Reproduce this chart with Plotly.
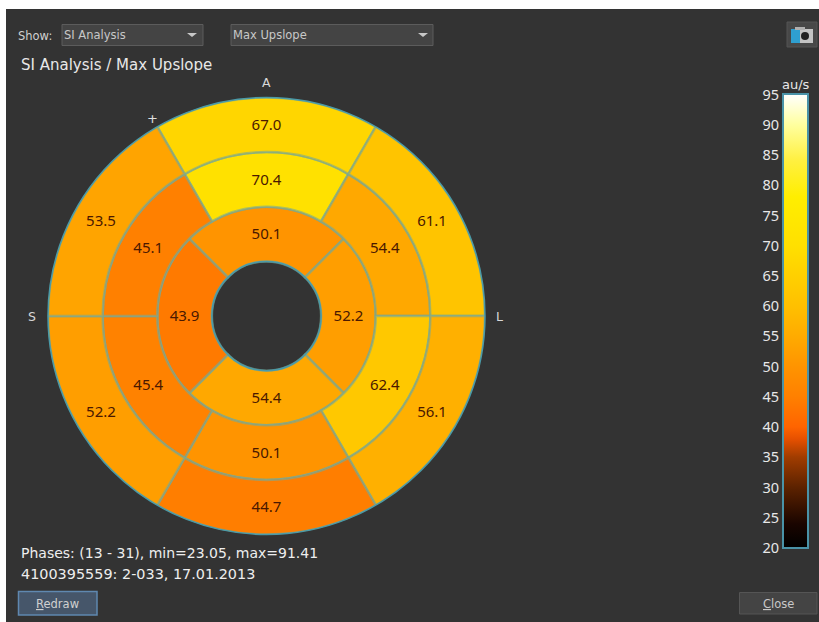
import plotly.graph_objects as go

W, H = 819, 622

# ---- data -----------------------------------------------------------
outer_values = [67.0, 61.1, 56.1, 44.7, 52.2, 53.5]
middle_values = [70.4, 54.4, 62.4, 50.1, 45.4, 45.1]
inner_values = [50.1, 52.2, 54.4, 43.9]
scale_ticks = [20, 25, 30, 35, 40, 45, 50, 55, 60, 65, 70, 75, 80, 85, 90, 95]
scale_stops = [20, 24, 30, 35, 38, 40, 45, 50, 55, 60, 65, 70, 78, 84, 90, 95]
scale_colors = ["#000000", "#1a0500", "#5c2200", "#a03c00", "#e65000", "#ff6400",
                "#ff8000", "#ff9400", "#ffab00", "#ffc000", "#ffd000", "#ffe000",
                "#ffee00", "#fff040", "#ffffa0", "#ffffff"]
show_label = "Show:"
combo_labels = ["SI Analysis", "Max Upslope"]
chart_title = "SI Analysis / Max Upslope"
footer_lines = ["Phases: (13 - 31), min=23.05, max=91.41", "4100395559: 2-033, 17.01.2013"]
unit = "au/s"

CMIN, CMAX = scale_ticks[0], scale_ticks[-1]
colorscale = [[(s - CMIN) / (CMAX - CMIN), c] for s, c in zip(scale_stops, scale_colors)]

# ---- helpers --------------------------------------------------------
def px(x):
    return x / W

def py(y):
    return 1 - y / H

FONT = "DejaVu Sans"
NUMFONT = "Noto Sans"
BG = "#333333"
EDGE = "rgba(120,170,150,0.62)"
TEAL = "#4a9aa8"
TXT = "#e4e4e4"

CX, CY, R = 266.5, 316, 218.5
TEXT_SHIFT = 1.5
fig = go.Figure()

rings = [(inner_values, 1), (middle_values, 2), (outer_values, 3)]
for values, base in rings:
    n = len(values)
    thetas = [i * 360 / n for i in range(n)]
    fig.add_trace(go.Barpolar(
        r=[1] * n, base=[base] * n, theta=thetas, width=[360 / n] * n,
        marker=dict(color=values, coloraxis="coloraxis", line=dict(color=EDGE, width=2.5)),
        hoverinfo="skip", showlegend=False, subplot="polar",
    ))
    fig.add_trace(go.Scatterpolar(
        r=[base + 0.5] * n, theta=thetas, mode="text",
        text=[f"{v:.1f}" for v in values],
        textposition="middle center",
        textfont=dict(family=NUMFONT, size=15, color="#4a1800"),
        hoverinfo="skip", showlegend=False, subplot="polar2",
    ))

# invisible trace that carries the value axis next to the colour bar
fig.add_trace(go.Scatter(x=[0, 0], y=[CMIN, CMAX], mode="markers", marker=dict(opacity=0),
                         xaxis="x", yaxis="y", hoverinfo="skip", showlegend=False))

BAR_L, BAR_R, BAR_T, BAR_B = 783, 808, 94.5, 548

shapes = []
def rect(x0, y0, x1, y1, fill, line=None, lw=1):
    shapes.append(dict(type="rect", xref="paper", yref="paper",
                       x0=px(x0), x1=px(x1), y0=py(y1), y1=py(y0), fillcolor=fill,
                       line=dict(color=line or fill, width=lw if line else 0), layer="above"))

def tri(x, y):
    shapes.append(dict(type="path", xref="paper", yref="paper",
                       path=f"M {px(x-5)} {py(y-2)} L {px(x+5)} {py(y-2)} L {px(x)} {py(y+2)} Z",
                       fillcolor="#c8c8c8", line=dict(width=0), layer="above"))

def ring_edge(radius):
    shapes.append(dict(type="circle", xref="paper", yref="paper", layer="above",
                       x0=px(CX - radius), x1=px(CX + radius),
                       y0=py(CY + radius), y1=py(CY - radius),
                       fillcolor="rgba(0,0,0,0)", line=dict(color=TEAL, width=1.5)))

ring_edge(R / 4)
ring_edge(R)

# white edge of the screenshot
rect(0, 0, W, 9, "#ffffff")
rect(0, 0, 6, H, "#ffffff")
# combos
rect(62, 24.5, 203, 45.5, "#444444", "#5c5c5c")
rect(231, 24.5, 433, 45.5, "#444444", "#5c5c5c")
tri(192, 35)
tri(423, 35)
# buttons
rect(18.5, 591.5, 97, 615, "#46566a", "#5f88b0", 1.5)
rect(739.5, 592.5, 817, 614, "#444444", "#555555")
# camera button
rect(787, 22, 817, 47, "#484848", "#555555")
rect(791, 29, 800, 43, "#2f9fd0")
rect(800, 29, 813, 43, "#c4c4c4")
rect(795, 27, 805, 30, "#b0b0b0")
shapes.append(dict(type="circle", xref="paper", yref="paper", layer="above",
                   x0=px(801), x1=px(809), y0=py(40), y1=py(32),
                   fillcolor="#222222", line=dict(width=0)))

def label(x, y, text, size=12, color=TXT, anchor="left", family=FONT):
    return dict(x=px(x), y=py(y), xref="paper", yref="paper", text=text, showarrow=False,
                xanchor=anchor, yanchor="middle", align=anchor,
                font=dict(family=family, size=size, color=color))

annotations = [
    label(16, 35.5, show_label, 11.5, "#d0d0d0"),
    label(62, 35, combo_labels[0], 11.5, "#c8c8c8"),
    label(231, 35, combo_labels[1], 11.5, "#c8c8c8"),
    label(19, 65, chart_title, 15, "#e8e8e8"),
    label(266, 82, "A", 12.5, "#d8d8d8", "center"),
    label(152, 119, "+", 13, "#e0e0e0", "center"),
    label(32, 316, "S", 12.5, "#d8d8d8", "center"),
    label(499.5, 316, "L", 12.5, "#d8d8d8", "center"),
    label(19, 553, footer_lines[0], 14, "#eeeeee"),
    label(19, 574, footer_lines[1], 14.4, "#eeeeee"),
    label(57.5, 604, "<u>R</u>edraw", 11.5, "#d0d0d0", "center"),
    label(778, 604, "<u>C</u>lose", 11.5, "#c8c8c8", "center"),
    label(796, 85, unit, 13, "#e8e8e8", "center"),
]

polar_common = dict(
    bgcolor="rgba(0,0,0,0)", bargap=0,
    radialaxis=dict(visible=False, range=[0, 4]),
    angularaxis=dict(visible=False, rotation=90, direction="clockwise"),
)

fig.update_layout(
    width=W, height=H, autosize=False,
    margin=dict(l=0, r=0, t=0, b=0, pad=0, autoexpand=False),
    paper_bgcolor=BG, plot_bgcolor="rgba(0,0,0,0)",
    hovermode=False, showlegend=False,
    polar=dict(domain=dict(x=[px(CX - R), px(CX + R)], y=[py(CY + R), py(CY - R)]), **polar_common),
    polar2=dict(domain=dict(x=[px(CX - R), px(CX + R)],
                            y=[py(CY + R + TEXT_SHIFT), py(CY - R + TEXT_SHIFT)]), **polar_common),
    coloraxis=dict(
        cmin=CMIN, cmax=CMAX, colorscale=colorscale,
        colorbar=dict(
            x=px(BAR_L), xanchor="left", xpad=0, ypad=0,
            y=py(BAR_B), yanchor="bottom", len=(BAR_B - BAR_T) / H, lenmode="fraction",
            thickness=BAR_R - BAR_L, thicknessmode="pixels",
            outlinecolor="#4a93a8", outlinewidth=2, borderwidth=0,
            showticklabels=False, ticks="",
        ),
    ),
    xaxis=dict(domain=[px(BAR_L), px(BAR_R)], visible=False, fixedrange=True),
    yaxis=dict(
        domain=[py(BAR_B), py(BAR_T)], range=[CMIN, CMAX], anchor="free",
        position=px(BAR_L), side="left", tickmode="array", tickvals=scale_ticks,
        ticks="outside", ticklen=1, tickcolor="#4a93a8", showgrid=False, zeroline=False,
        showline=False, tickfont=dict(family=NUMFONT, size=14.5, color="#e8e8e8"), fixedrange=True,
    ),
    shapes=shapes, annotations=annotations,
)

fig.write_html("out.html", config=dict(displayModeBar=False),
               post_script="document.documentElement.style.overflow='hidden';document.body.style.margin='0';")
